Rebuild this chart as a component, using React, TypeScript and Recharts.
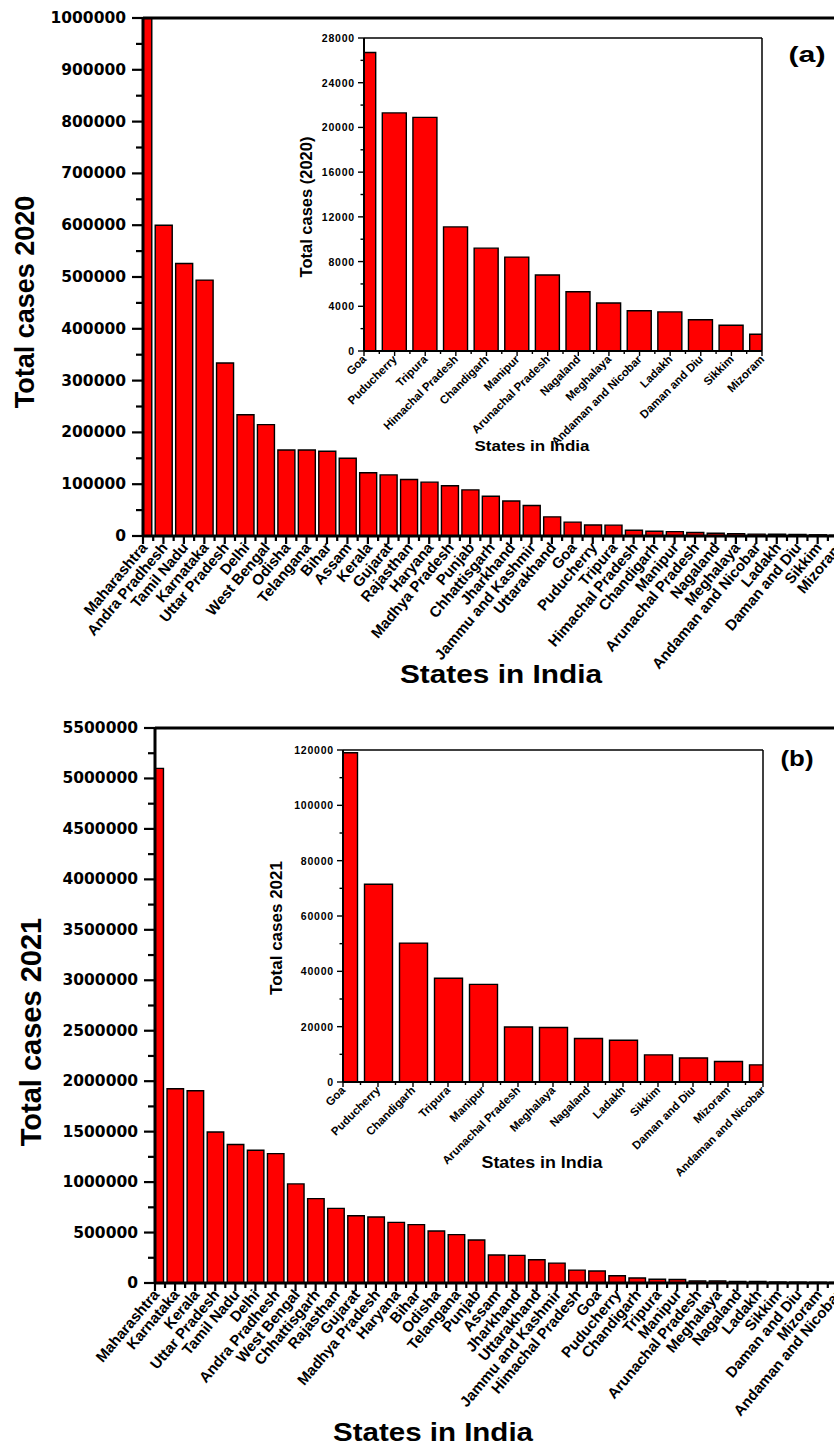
import { Bar, BarChart, ReferenceLine, XAxis, YAxis } from "recharts"

// 2020: states sorted by total cases, as in the figure
const states2020 = [
  "Maharashtra", "Andra Pradhesh", "Tamil Nadu", "Karnataka", "Uttar Pradesh",
  "Delhi", "West Bengal", "Odisha", "Telangana", "Bihar", "Assam", "Kerala",
  "Gujarat", "Rajasthan", "Haryana", "Madhya Pradesh", "Punjab", "Chhattisgarh",
  "Jharkhand", "Jammu and Kashmir", "Uttarakhand", "Goa", "Puducherry", "Tripura",
  "Himachal Pradesh", "Chandigarh", "Manipur", "Arunachal Pradesh", "Nagaland",
  "Meghalaya", "Andaman and Nicobar", "Ladakh", "Daman and Diu", "Sikkim", "Mizoram",
]
const cases2020 = [
  1930000, 600000, 526000, 494000, 334000, 234000, 215000, 166000, 166000, 163500,
  150000, 122000, 118000, 109000, 104000, 97000, 89000, 76600, 67600, 59000,
  37000, 26700, 21300, 20900, 11100, 9200, 8400, 6800, 5300, 4300,
  3600, 3500, 2800, 2300, 1500,
]

// 2021
const states2021 = [
  "Maharashtra", "Karnataka", "Kerala", "Uttar Pradesh", "Tamil Nadu", "Delhi",
  "Andra Pradhesh", "West Bengal", "Chhattisgarh", "Rajasthan", "Gujarat",
  "Madhya Pradesh", "Haryana", "Bihar", "Odisha", "Telangana", "Punjab", "Assam",
  "Jharkhand", "Uttarakhand", "Jammu and Kashmir", "Himachal Pradesh", "Goa",
  "Puducherry", "Chandigarh", "Tripura", "Manipur", "Arunachal Pradesh", "Meghalaya",
  "Nagaland", "Ladakh", "Sikkim", "Daman and Diu", "Mizoram", "Andaman and Nicobar",
]
const cases2021 = [
  5100000, 1925000, 1905000, 1496000, 1372000, 1316000, 1282000, 982000, 836000, 740000,
  667000, 654000, 601000, 578000, 515000, 479000, 426000, 277000, 274000, 230000,
  197000, 128000, 119000, 71500, 50200, 37500, 35300, 19900, 19700, 15700,
  15100, 9800, 8700, 7400, 6200,
]

// labelled y ticks (minor ticks sit halfway between)
const yTicks2020 = [0, 100000, 200000, 300000, 400000, 500000, 600000, 700000, 800000, 900000, 1000000]
const yTicks2021 = [0, 500000, 1000000, 1500000, 2000000, 2500000, 3000000, 3500000, 4000000, 4500000, 5000000, 5500000]
const yTicksInset2020 = [0, 4000, 8000, 12000, 16000, 20000, 24000, 28000]
const yTicksInset2021 = [0, 20000, 40000, 60000, 80000, 100000, 120000]

// the insets zoom in on the small states, starting at Goa
const insetFrom2020 = states2020.indexOf("Goa")
const insetFrom2021 = states2021.indexOf("Goa")

const SANS = "'Liberation Sans', Arial, sans-serif"

const mainStyle = {
  axisWidth: 3, tickWidth: 2.2,
  yMajor: 11, yMinor: 7, yGap: 6, yFont: "'DejaVu Sans', sans-serif", yFontSize: 15.5, yLetter: 0,
  xMajor: 8, xMinor: 5, xFontSize: 15, xDx: 5, xDy: 12, xAngle: -50,
}
const insetStyle = {
  axisWidth: 2, tickWidth: 1.4,
  yMajor: 6, yMinor: 3.5, yGap: 3, yFont: SANS, yFontSize: 10.5, yLetter: 0.8,
  xMajor: 5, xMinor: 3, xFontSize: 11.5, xDx: 3, xDy: 9, xAngle: -45,
}

function withMinor(major: number[]) {
  const out: number[] = []
  major.forEach((v, i) => {
    out.push(v)
    if (i < major.length - 1) out.push((v + major[i + 1]) / 2)
  })
  return out
}

function XTick(props: any) {
  const { x, y, payload, names, half, st, last } = props
  const px = x + st.xDx
  const py = y + st.xDy
  return (
    <g>
      <line x1={x} y1={y} x2={x} y2={y + st.xMajor} stroke="#000" strokeWidth={st.tickWidth} />
      {payload.value < last && (
        <line x1={x + half} y1={y} x2={x + half} y2={y + st.xMinor} stroke="#000" strokeWidth={st.tickWidth} />
      )}
      <text
        x={px}
        y={py}
        transform={`rotate(${st.xAngle} ${px} ${py})`}
        textAnchor="end"
        fontFamily={SANS}
        fontSize={st.xFontSize}
        fontWeight="bold"
        fill="#000"
      >
        {names[payload.value]}
      </text>
    </g>
  )
}

function YTick(props: any) {
  const { x, y, payload, majors, st } = props
  const major = majors.includes(payload.value)
  return (
    <g>
      <line x1={x - (major ? st.yMajor : st.yMinor)} y1={y} x2={x} y2={y} stroke="#000" strokeWidth={st.tickWidth} />
      {major && (
        <text
          x={x - st.yMajor - st.yGap}
          y={y}
          textAnchor="end"
          dominantBaseline="central"
          fontFamily={st.yFont}
          fontSize={st.yFontSize}
          fontWeight="bold"
          letterSpacing={st.yLetter}
          fill="#000"
        >
          {payload.value}
        </text>
      )}
    </g>
  )
}

type PanelProps = {
  names: string[]
  values: number[]
  yTicks: number[]
  left: number
  top: number
  width: number
  height: number
  marginTop: number
  marginRight: number
  yAxisWidth: number
  xAxisHeight: number
  xMax: number
  barSize: number
  inset?: boolean
}

function Panel(p: PanelProps) {
  const st = p.inset ? insetStyle : mainStyle
  const data = p.values.map((v, i) => ({ i, v }))
  const half = (p.width - p.yAxisWidth - p.marginRight) / p.xMax / 2
  const yMax = p.yTicks[p.yTicks.length - 1]
  return (
    <div style={{ position: "absolute", left: p.left, top: p.top }}>
      <BarChart
        width={p.width}
        height={p.height}
        data={data}
        margin={{ top: p.marginTop, right: p.marginRight, bottom: 0, left: 0 }}
      >
        <XAxis
          type="number"
          dataKey="i"
          domain={[0, p.xMax]}
          allowDataOverflow
          ticks={data.map((d) => d.i)}
          interval={0}
          height={p.xAxisHeight}
          tickSize={0}
          tickMargin={0}
          tickLine={false}
          axisLine={{ stroke: "#000", strokeWidth: st.axisWidth }}
          tick={(t: any) => <XTick {...t} names={p.names} half={half} st={st} last={p.xMax} />}
        />
        <YAxis
          type="number"
          domain={[0, yMax]}
          allowDataOverflow
          ticks={withMinor(p.yTicks)}
          interval={0}
          width={p.yAxisWidth}
          tickSize={0}
          tickMargin={0}
          tickLine={false}
          axisLine={{ stroke: "#000", strokeWidth: st.axisWidth }}
          tick={(t: any) => <YTick {...t} majors={p.yTicks} st={st} />}
        />
        <Bar
          dataKey="v"
          fill="#ff0000"
          stroke="#000"
          strokeWidth={1.4}
          barSize={p.barSize}
          isAnimationActive={false}
        />
        <ReferenceLine y={yMax} stroke="#000" strokeWidth={p.inset ? 1.5 : 3} />
        {p.inset && <ReferenceLine x={p.xMax} stroke="#000" strokeWidth={1.5} />}
      </BarChart>
    </div>
  )
}

export default function App() {
  return (
    <div
      style={{
        position: "absolute",
        left: 0,
        top: 0,
        width: 834,
        height: 1447,
        overflow: "hidden",
        background: "#fff",
      }}
    >
      <Panel
        names={states2020}
        values={cases2020}
        yTicks={yTicks2020}
        left={0}
        top={0}
        width={879}
        height={680}
        marginTop={18}
        marginRight={0}
        yAxisWidth={143}
        xAxisHeight={144}
        xMax={36}
        barSize={17}
      />
      <Panel
        names={states2020.slice(insetFrom2020)}
        values={cases2020.slice(insetFrom2020)}
        yTicks={yTicksInset2020}
        left={250}
        top={0}
        width={522}
        height={451}
        marginTop={38}
        marginRight={10}
        yAxisWidth={114}
        xAxisHeight={100}
        xMax={states2020.length - insetFrom2020 - 1}
        barSize={24}
        inset
      />
      <Panel
        names={states2021}
        values={cases2021}
        yTicks={yTicks2021}
        left={0}
        top={700}
        width={878}
        height={747}
        marginTop={28}
        marginRight={0}
        yAxisWidth={155}
        xAxisHeight={164}
        xMax={36}
        barSize={16.5}
      />
      <Panel
        names={states2021.slice(insetFrom2021)}
        values={cases2021.slice(insetFrom2021)}
        yTicks={yTicksInset2021}
        left={230}
        top={700}
        width={543}
        height={482}
        marginTop={50}
        marginRight={10}
        yAxisWidth={113}
        xAxisHeight={100}
        xMax={states2021.length - insetFrom2021 - 1}
        barSize={28}
        inset
      />
      <svg
        width={834}
        height={1447}
        style={{ position: "absolute", left: 0, top: 0, pointerEvents: "none" }}
        fontFamily={SANS}
        fontWeight="bold"
        fill="#000"
      >
        <text transform="translate(25 302) rotate(-90)" textAnchor="middle" dominantBaseline="central" fontSize={27}>
          Total cases 2020
        </text>
        <text x={501} y={674} textAnchor="middle" dominantBaseline="central" fontSize={25} textLength={202} lengthAdjust="spacingAndGlyphs">
          States in India
        </text>
        <text transform="translate(306 207) rotate(-90)" textAnchor="middle" dominantBaseline="central" fontSize={16.5}>
          Total cases (2020)
        </text>
        <text x={532} y={445} textAnchor="middle" dominantBaseline="central" fontSize={15} textLength={115} lengthAdjust="spacingAndGlyphs">
          States in India
        </text>
        <text x={807} y={54} textAnchor="middle" dominantBaseline="central" fontSize={22} textLength={37} lengthAdjust="spacingAndGlyphs">
          (a)
        </text>

        <text transform="translate(31 1032) rotate(-90)" textAnchor="middle" dominantBaseline="central" fontSize={29}>
          Total cases 2021
        </text>
        <text x={433} y={1432} textAnchor="middle" dominantBaseline="central" fontSize={26} textLength={200} lengthAdjust="spacingAndGlyphs">
          States in India
        </text>
        <text transform="translate(276 928) rotate(-90)" textAnchor="middle" dominantBaseline="central" fontSize={17}>
          Total cases 2021
        </text>
        <text x={542} y={1162} textAnchor="middle" dominantBaseline="central" fontSize={16} textLength={121} lengthAdjust="spacingAndGlyphs">
          States in India
        </text>
        <text x={797} y={758} textAnchor="middle" dominantBaseline="central" fontSize={22} textLength={33} lengthAdjust="spacingAndGlyphs">
          (b)
        </text>
      </svg>
    </div>
  )
}
